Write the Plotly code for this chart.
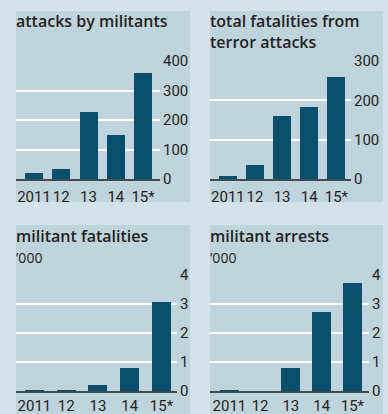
import plotly.graph_objects as go

years = ["2011", "12", "13", "14", "15*"]
attacks = [20, 34, 227, 149, 359]
total_fatalities = [7, 35, 160, 183, 259]
militant_fatalities = [0.005, 0.03, 0.2, 0.8, 3.06]
militant_arrests = [0.02, 0.0, 0.78, 2.71, 3.71]

titles = ["attacks by militants", "total fatalities from<br>terror attacks",
          "militant fatalities", "militant arrests"]
subtitles = ["", "", "\u2019000", "\u2019000"]
y_ticks = [[0, 100, 200, 300, 400], [0, 100, 200, 300], [0, 1, 2, 3, 4], [0, 1, 2, 3, 4]]

W, H = 388, 414
OUTER = "#d4e3eb"
PANEL = "#c0d4de"
BAR = "#0a4e6d"
TEXT = "#231f20"
TICKFONT = dict(family="Roboto, sans-serif", size=15, color=TEXT)

def fx(px):
    return px / W

def fy(py):
    return 1 - py / H

panels = [
    dict(x=(16, 160), y=(61, 179), xr=(-0.66, 4.62), bw=0.66, rect=(16, 11, 190, 202), ty=8, so=3),
    dict(x=(210, 351), y=(61, 179), xr=(-0.66, 4.54), bw=0.66, rect=(210, 11, 383, 202), ty=8, so=3),
    dict(x=(16, 177), y=(275, 391), xr=(-0.58, 4.49), bw=0.6, rect=(16, 225, 190, 414), ty=223, so=0),
    dict(x=(210, 369), y=(275, 391), xr=(-0.63, 4.54), bw=0.62, rect=(210, 225, 383, 414), ty=223, so=0),
]
series = [attacks, total_fatalities, militant_fatalities, militant_arrests]

fig = go.Figure()
layout = dict(
    width=W, height=H, margin=dict(l=0, r=0, t=0, b=0, autoexpand=False),
    paper_bgcolor=OUTER, plot_bgcolor=PANEL, showlegend=False,
    bargap=0, shapes=[], annotations=[],
)

for i, (p, vals) in enumerate(zip(panels, series)):
    n = "" if i == 0 else str(i + 1)
    fig.add_trace(go.Bar(x=years, y=vals, width=p["bw"], marker=dict(color=BAR, line=dict(width=0)),
                         xaxis="x" + n, yaxis="y" + n, hoverinfo="skip"))
    layout["xaxis" + n] = dict(
        domain=[fx(p["x"][0]), fx(p["x"][1])], anchor="y" + n, type="category",
        range=list(p["xr"]), showgrid=False, zeroline=False, ticks="", tickangle=0,
        showline=True, linecolor="#3f4b52", linewidth=1.5, automargin=False,
        tickfont=TICKFONT, ticklabelstandoff=p["so"], fixedrange=True,
    )
    yt = y_ticks[i]
    layout["yaxis" + n] = dict(
        domain=[fy(p["y"][1]), fy(p["y"][0])], anchor="x" + n, side="right",
        range=[yt[0], yt[-1]], tickvals=yt, showgrid=True, gridcolor="white", gridwidth=2,
        zeroline=False, ticks="", tickfont=TICKFONT, ticklabelstandoff=2, fixedrange=True,
        automargin=False,
    )
    r = p["rect"]
    layout["shapes"].append(dict(type="rect", xref="paper", yref="paper", layer="below",
                                 x0=fx(r[0]), x1=fx(r[2]), y0=fy(r[3]), y1=fy(r[1]),
                                 fillcolor=PANEL, line=dict(width=0)))
    text = titles[i]
    if subtitles[i]:
        text += "<br><span style='font-size:14px;font-weight:400'>" + subtitles[i] + "</span>"
    layout["annotations"].append(dict(
        text=text, xref="paper", yref="paper", x=fx(r[0] - 2), y=fy(p["ty"]),
        xanchor="left", yanchor="top", align="left", showarrow=False,
        font=dict(family="Open Sans, sans-serif", size=16, color=TEXT, weight=600),
    ))

fig.update_layout(**layout)
fig.write_html("out.html", config={"displayModeBar": False},
               post_script="document.body.style.margin='0';")
